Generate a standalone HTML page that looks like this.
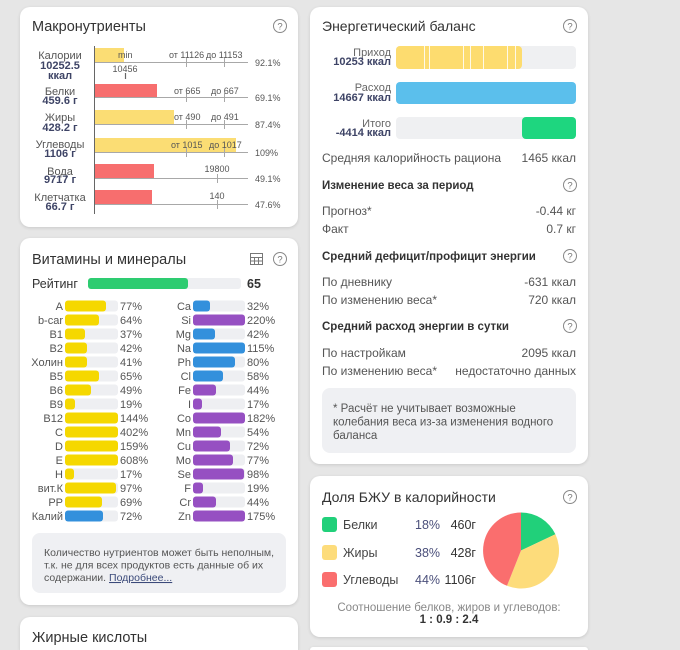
<!DOCTYPE html>
<html><head><meta charset="utf-8"><style>
html,body{margin:0;padding:0;background:#e6e6e6;width:680px;height:650px;overflow:hidden;position:relative}
.card{position:absolute;background:#fff;border-radius:10px;box-shadow:0 1px 3px rgba(0,0,0,0.13)}
svg{position:absolute;left:0;top:0}
text{font-family:"Liberation Sans","DejaVu Sans",sans-serif}
</style></head><body>
<div class="card" style="left:20px;top:7px;width:278px;height:220px"></div>
<div class="card" style="left:20px;top:238px;width:278px;height:367px"></div>
<div class="card" style="left:20px;top:617px;width:278px;height:33px;border-radius:10px 10px 0 0"></div>
<div class="card" style="left:310px;top:7px;width:278px;height:457px"></div>
<div class="card" style="left:310px;top:476px;width:278px;height:161px"></div>
<div class="card" style="left:310px;top:647px;width:278px;height:3px;border-radius:10px 10px 0 0"></div>
<svg width="680" height="650" viewBox="0 0 680 650" xmlns="http://www.w3.org/2000/svg">
<defs>
<g id="help"><circle cx="0" cy="0" r="6.5" fill="none" stroke="#888" stroke-width="1"/><text x="0" y="3.5" font-size="9.5" fill="#777" text-anchor="middle">?</text></g>
</defs>
<!-- Macronutrients -->
<text x="32" y="31" font-size="14.5" fill="#333">Макронутриенты</text>
<use href="#help" x="280" y="26"/>
<g font-size="11" text-anchor="middle">
<text x="60" y="59" fill="#555">Калории</text>
<text x="60" y="69" fill="#3e4466" font-weight="bold">10252.5</text>
<text x="60" y="79" fill="#3e4466" font-weight="bold">ккал</text>
<text x="60" y="95" fill="#555">Белки</text>
<text x="60" y="104" fill="#3e4466" font-weight="bold">459.6 г</text>
<text x="60" y="121" fill="#555">Жиры</text>
<text x="60" y="131" fill="#3e4466" font-weight="bold">428.2 г</text>
<text x="60" y="148" fill="#555">Углеводы</text>
<text x="60" y="157" fill="#3e4466" font-weight="bold">1106 г</text>
<text x="60" y="175" fill="#555">Вода</text>
<text x="60" y="183" fill="#3e4466" font-weight="bold">9717 г</text>
<text x="60" y="201" fill="#555">Клетчатка</text>
<text x="60" y="210" fill="#3e4466" font-weight="bold">66.7 г</text>
</g>
<rect x="95" y="48" width="29" height="14" fill="#fbdd74"/>
<rect x="95" y="84" width="62" height="14" fill="#f76e6e"/>
<rect x="95" y="110" width="79" height="14" fill="#fbdd74"/>
<rect x="95" y="138" width="141" height="14" fill="#fbdd74"/>
<rect x="95" y="164" width="59" height="14" fill="#f76e6e"/>
<rect x="95" y="190" width="57" height="14" fill="#f76e6e"/>
<g stroke="#a8a8a8" stroke-width="1">
<line x1="95" y1="62.5" x2="248" y2="62.5"/>
<line x1="95" y1="97.5" x2="248" y2="97.5"/>
<line x1="95" y1="124.5" x2="248" y2="124.5"/>
<line x1="95" y1="152.5" x2="248" y2="152.5"/>
<line x1="95" y1="178.5" x2="248" y2="178.5"/>
<line x1="95" y1="204.5" x2="248" y2="204.5"/>
<line x1="186.5" y1="58" x2="186.5" y2="67"/><line x1="224.5" y1="58" x2="224.5" y2="67"/>
<line x1="186.5" y1="93" x2="186.5" y2="102"/><line x1="224.5" y1="93" x2="224.5" y2="102"/>
<line x1="186.5" y1="120" x2="186.5" y2="129"/><line x1="224.5" y1="120" x2="224.5" y2="129"/>
<line x1="186.5" y1="148" x2="186.5" y2="157"/><line x1="224.5" y1="148" x2="224.5" y2="157"/>
<line x1="217.5" y1="174" x2="217.5" y2="183"/>
<line x1="217.5" y1="200" x2="217.5" y2="209"/>
</g>
<line x1="125.5" y1="73" x2="125.5" y2="79" stroke="#666" stroke-width="1.2"/>
<line x1="94.5" y1="46" x2="94.5" y2="214" stroke="#666" stroke-width="1"/>
<g font-size="9" fill="#555">
<text x="118" y="58">min</text>
<text x="169" y="58">от 11126</text><text x="206" y="58">до 11153</text>
<text x="125" y="72" text-anchor="middle">10456</text>
<text x="174" y="94">от 665</text><text x="211" y="94">до 667</text>
<text x="174" y="120">от 490</text><text x="211" y="120">до 491</text>
<text x="171" y="148">от 1015</text><text x="209" y="148">до 1017</text>
<text x="217" y="172" text-anchor="middle">19800</text>
<text x="217" y="199" text-anchor="middle">140</text>
<text x="255" y="66">92.1%</text>
<text x="255" y="101">69.1%</text>
<text x="255" y="128">87.4%</text>
<text x="255" y="156">109%</text>
<text x="255" y="182">49.1%</text>
<text x="255" y="208">47.6%</text>
</g>

<!-- Vitamins -->
<text x="32" y="264" font-size="14.5" fill="#333">Витамины и минералы</text>
<g stroke="#777" stroke-width="1" fill="none"><rect x="250.5" y="253.5" width="12" height="11"/><line x1="250.5" y1="257.5" x2="262.5" y2="257.5"/><line x1="250.5" y1="261" x2="262.5" y2="261"/><line x1="254.5" y1="257.5" x2="254.5" y2="264.5"/><line x1="258.5" y1="257.5" x2="258.5" y2="264.5"/></g>
<use href="#help" x="280" y="259"/>
<text x="32" y="288" font-size="12.5" fill="#333">Рейтинг</text>
<rect x="88" y="278" width="153" height="11" rx="3" fill="#eeeff2"/>
<rect x="88" y="278" width="100" height="11" rx="3" fill="#2ecc71"/>
<text x="247" y="288" font-size="12.5" fill="#333" font-weight="bold">65</text>
<g font-size="11" fill="#555">
<g text-anchor="end">
<text x="63" y="310">A</text><text x="63" y="324">b-car</text><text x="63" y="338">B1</text><text x="63" y="352">B2</text>
<text x="63" y="366">Холин</text><text x="63" y="380">B5</text><text x="63" y="394">B6</text><text x="63" y="408">B9</text>
<text x="63" y="422">B12</text><text x="63" y="436">C</text><text x="63" y="450">D</text><text x="63" y="464">E</text>
<text x="63" y="478">H</text><text x="63" y="492">вит.К</text><text x="63" y="506">PP</text><text x="63" y="520">Калий</text>
<text x="191" y="310">Ca</text><text x="191" y="324">Si</text><text x="191" y="338">Mg</text><text x="191" y="352">Na</text>
<text x="191" y="366">Ph</text><text x="191" y="380">Cl</text><text x="191" y="394">Fe</text><text x="191" y="408">I</text>
<text x="191" y="422">Co</text><text x="191" y="436">Mn</text><text x="191" y="450">Cu</text><text x="191" y="464">Mo</text>
<text x="191" y="478">Se</text><text x="191" y="492">F</text><text x="191" y="506">Cr</text><text x="191" y="520">Zn</text>
</g>
<text x="120" y="310">77%</text><text x="120" y="324">64%</text><text x="120" y="338">37%</text><text x="120" y="352">42%</text>
<text x="120" y="366">41%</text><text x="120" y="380">65%</text><text x="120" y="394">49%</text><text x="120" y="408">19%</text>
<text x="120" y="422">144%</text><text x="120" y="436">402%</text><text x="120" y="450">159%</text><text x="120" y="464">608%</text>
<text x="120" y="478">17%</text><text x="120" y="492">97%</text><text x="120" y="506">69%</text><text x="120" y="520">72%</text>
<text x="247" y="310">32%</text><text x="247" y="324">220%</text><text x="247" y="338">42%</text><text x="247" y="352">115%</text>
<text x="247" y="366">80%</text><text x="247" y="380">58%</text><text x="247" y="394">44%</text><text x="247" y="408">17%</text>
<text x="247" y="422">182%</text><text x="247" y="436">54%</text><text x="247" y="450">72%</text><text x="247" y="464">77%</text>
<text x="247" y="478">98%</text><text x="247" y="492">19%</text><text x="247" y="506">44%</text><text x="247" y="520">175%</text>
</g>
<g fill="#eeeff2">
<rect x="65" y="300.5" width="53" height="11" rx="3"/><rect x="65" y="314.5" width="53" height="11" rx="3"/><rect x="65" y="328.5" width="53" height="11" rx="3"/><rect x="65" y="342.5" width="53" height="11" rx="3"/>
<rect x="65" y="356.5" width="53" height="11" rx="3"/><rect x="65" y="370.5" width="53" height="11" rx="3"/><rect x="65" y="384.5" width="53" height="11" rx="3"/><rect x="65" y="398.5" width="53" height="11" rx="3"/>
<rect x="65" y="468.5" width="53" height="11" rx="3"/><rect x="65" y="482.5" width="53" height="11" rx="3"/><rect x="65" y="496.5" width="53" height="11" rx="3"/><rect x="65" y="510.5" width="53" height="11" rx="3"/>
<rect x="193" y="300.5" width="52" height="11" rx="3"/><rect x="193" y="328.5" width="52" height="11" rx="3"/><rect x="193" y="356.5" width="52" height="11" rx="3"/><rect x="193" y="370.5" width="52" height="11" rx="3"/>
<rect x="193" y="384.5" width="52" height="11" rx="3"/><rect x="193" y="398.5" width="52" height="11" rx="3"/><rect x="193" y="426.5" width="52" height="11" rx="3"/><rect x="193" y="440.5" width="52" height="11" rx="3"/>
<rect x="193" y="454.5" width="52" height="11" rx="3"/><rect x="193" y="468.5" width="52" height="11" rx="3"/><rect x="193" y="482.5" width="52" height="11" rx="3"/><rect x="193" y="496.5" width="52" height="11" rx="3"/>
</g>
<g fill="#f5d800">
<rect x="65" y="300.5" width="41" height="11" rx="3"/><rect x="65" y="314.5" width="34" height="11" rx="3"/><rect x="65" y="328.5" width="20" height="11" rx="3"/><rect x="65" y="342.5" width="22" height="11" rx="3"/>
<rect x="65" y="356.5" width="22" height="11" rx="3"/><rect x="65" y="370.5" width="34" height="11" rx="3"/><rect x="65" y="384.5" width="26" height="11" rx="3"/><rect x="65" y="398.5" width="10" height="11" rx="3"/>
<rect x="65" y="412.5" width="53" height="11" rx="3"/><rect x="65" y="426.5" width="53" height="11" rx="3"/><rect x="65" y="440.5" width="53" height="11" rx="3"/><rect x="65" y="454.5" width="53" height="11" rx="3"/>
<rect x="65" y="468.5" width="9" height="11" rx="3"/><rect x="65" y="482.5" width="51" height="11" rx="3"/><rect x="65" y="496.5" width="37" height="11" rx="3"/>
</g>
<g fill="#3390dc">
<rect x="65" y="510.5" width="38" height="11" rx="3"/>
<rect x="193" y="300.5" width="17" height="11" rx="3"/><rect x="193" y="328.5" width="22" height="11" rx="3"/><rect x="193" y="342.5" width="52" height="11" rx="3"/>
<rect x="193" y="356.5" width="42" height="11" rx="3"/><rect x="193" y="370.5" width="30" height="11" rx="3"/>
</g>
<g fill="#9650c2">
<rect x="193" y="314.5" width="52" height="11" rx="3"/><rect x="193" y="384.5" width="23" height="11" rx="3"/><rect x="193" y="398.5" width="9" height="11" rx="3"/>
<rect x="193" y="412.5" width="52" height="11" rx="3"/><rect x="193" y="426.5" width="28" height="11" rx="3"/><rect x="193" y="440.5" width="37" height="11" rx="3"/>
<rect x="193" y="454.5" width="40" height="11" rx="3"/><rect x="193" y="468.5" width="51" height="11" rx="3"/><rect x="193" y="482.5" width="10" height="11" rx="3"/>
<rect x="193" y="496.5" width="23" height="11" rx="3"/><rect x="193" y="510.5" width="52" height="11" rx="3"/>
</g>
<rect x="32" y="533" width="254" height="60" rx="8" fill="#eff0f3"/>
<g font-size="10.5" fill="#555">
<text x="44" y="556">Количество нутриентов может быть неполным,</text>
<text x="44" y="568.5">т.к. не для всех продуктов есть данные об их</text>
<text x="44" y="581">содержании. <tspan fill="#3b4a7a" text-decoration="underline">Подробнее...</tspan></text>
</g>
<text x="32" y="642" font-size="14.5" fill="#333">Жирные кислоты</text>

<!-- Energy balance -->
<text x="322" y="31" font-size="14" fill="#333">Энергетический баланс</text>
<use href="#help" x="570" y="26"/>
<g font-size="11" text-anchor="end">
<text x="391" y="56" fill="#666">Приход</text>
<text x="391" y="65" fill="#3e4466" font-weight="bold">10253 ккал</text>
<text x="391" y="91" fill="#666">Расход</text>
<text x="391" y="101" fill="#3e4466" font-weight="bold">14667 ккал</text>
<text x="391" y="127" fill="#666">Итого</text>
<text x="391" y="136" fill="#3e4466" font-weight="bold">-4414 ккал</text>
</g>
<rect x="396" y="46" width="180" height="23" rx="4" fill="#eff0f2"/>
<rect x="396" y="46" width="126" height="23" rx="4" fill="#fddc6f"/>
<g stroke="#fff" stroke-width="1" opacity="0.85">
<line x1="424.5" y1="46" x2="424.5" y2="69"/><line x1="429.5" y1="46" x2="429.5" y2="69"/><line x1="463.5" y1="46" x2="463.5" y2="69"/><line x1="470.5" y1="46" x2="470.5" y2="69"/><line x1="483.5" y1="46" x2="483.5" y2="69"/><line x1="507.5" y1="46" x2="507.5" y2="69"/><line x1="515.5" y1="46" x2="515.5" y2="69"/>
</g>
<rect x="396" y="82" width="180" height="22" rx="4" fill="#5bbfec"/>
<rect x="396" y="117" width="180" height="22" rx="4" fill="#eff0f2"/>
<rect x="522" y="117" width="54" height="22" rx="4" fill="#1ed67f"/>
<g font-size="12" fill="#555">
<text x="322" y="162">Средняя калорийность рациона</text><text x="576" y="162" text-anchor="end">1465 ккал</text>
<text x="322" y="215">Прогноз*</text><text x="576" y="215" text-anchor="end">-0.44 кг</text>
<text x="322" y="233">Факт</text><text x="576" y="233" text-anchor="end">0.7 кг</text>
<text x="322" y="286">По дневнику</text><text x="576" y="286" text-anchor="end">-631 ккал</text>
<text x="322" y="304">По изменению веса*</text><text x="576" y="304" text-anchor="end">720 ккал</text>
<text x="322" y="357">По настройкам</text><text x="576" y="357" text-anchor="end">2095 ккал</text>
<text x="322" y="375">По изменению веса*</text><text x="576" y="375" text-anchor="end">недостаточно данных</text>
</g>
<g font-size="11.5" fill="#333" font-weight="bold">
<text x="322" y="189">Изменение веса за период</text>
<text x="322" y="260">Средний дефицит/профицит энергии</text>
<text x="322" y="330">Средний расход энергии в сутки</text>
</g>
<use href="#help" x="570" y="185"/>
<use href="#help" x="570" y="256"/>
<use href="#help" x="570" y="326"/>
<rect x="322" y="388" width="254" height="65" rx="8" fill="#eff0f3"/>
<g font-size="11.5" fill="#555">
<text x="333" y="412">* Расчёт не учитывает возможные</text>
<text x="333" y="425.5">колебания веса из-за изменения водного</text>
<text x="333" y="439">баланса</text>
</g>

<!-- BJU -->
<text x="322" y="502" font-size="14" fill="#333">Доля БЖУ в калорийности</text>
<use href="#help" x="570" y="497"/>
<rect x="322" y="517" width="15" height="15" rx="3" fill="#21d07a"/>
<rect x="322" y="545" width="15" height="15" rx="3" fill="#fddc7b"/>
<rect x="322" y="572" width="15" height="15" rx="3" fill="#fa6e6e"/>
<g font-size="12.5">
<text x="343" y="529" fill="#444">Белки</text><text x="415" y="529" fill="#4a4f7a">18%</text><text x="476" y="529" fill="#333" text-anchor="end">460г</text>
<text x="343" y="557" fill="#444">Жиры</text><text x="415" y="557" fill="#4a4f7a">38%</text><text x="476" y="557" fill="#333" text-anchor="end">428г</text>
<text x="343" y="584" fill="#444">Углеводы</text><text x="415" y="584" fill="#4a4f7a">44%</text><text x="476" y="584" fill="#333" text-anchor="end">1106г</text>
</g>
<path d="M521,550.5 L521,512.5 A38,38 0 0,1 555.4,534.3 Z" fill="#21d07a"/>
<path d="M521,550.5 L555.4,534.3 A38,38 0 0,1 507.0,585.8 Z" fill="#fddc7b"/>
<path d="M521,550.5 L507.0,585.8 A38,38 0 0,1 521,512.5 Z" fill="#fa6e6e"/>
<text x="449" y="611" font-size="11.5" fill="#888" text-anchor="middle">Соотношение белков, жиров и углеводов:</text>
<text x="449" y="623" font-size="11.5" fill="#333" font-weight="bold" text-anchor="middle">1 : 0.9 : 2.4</text>
</svg>
</body></html>
